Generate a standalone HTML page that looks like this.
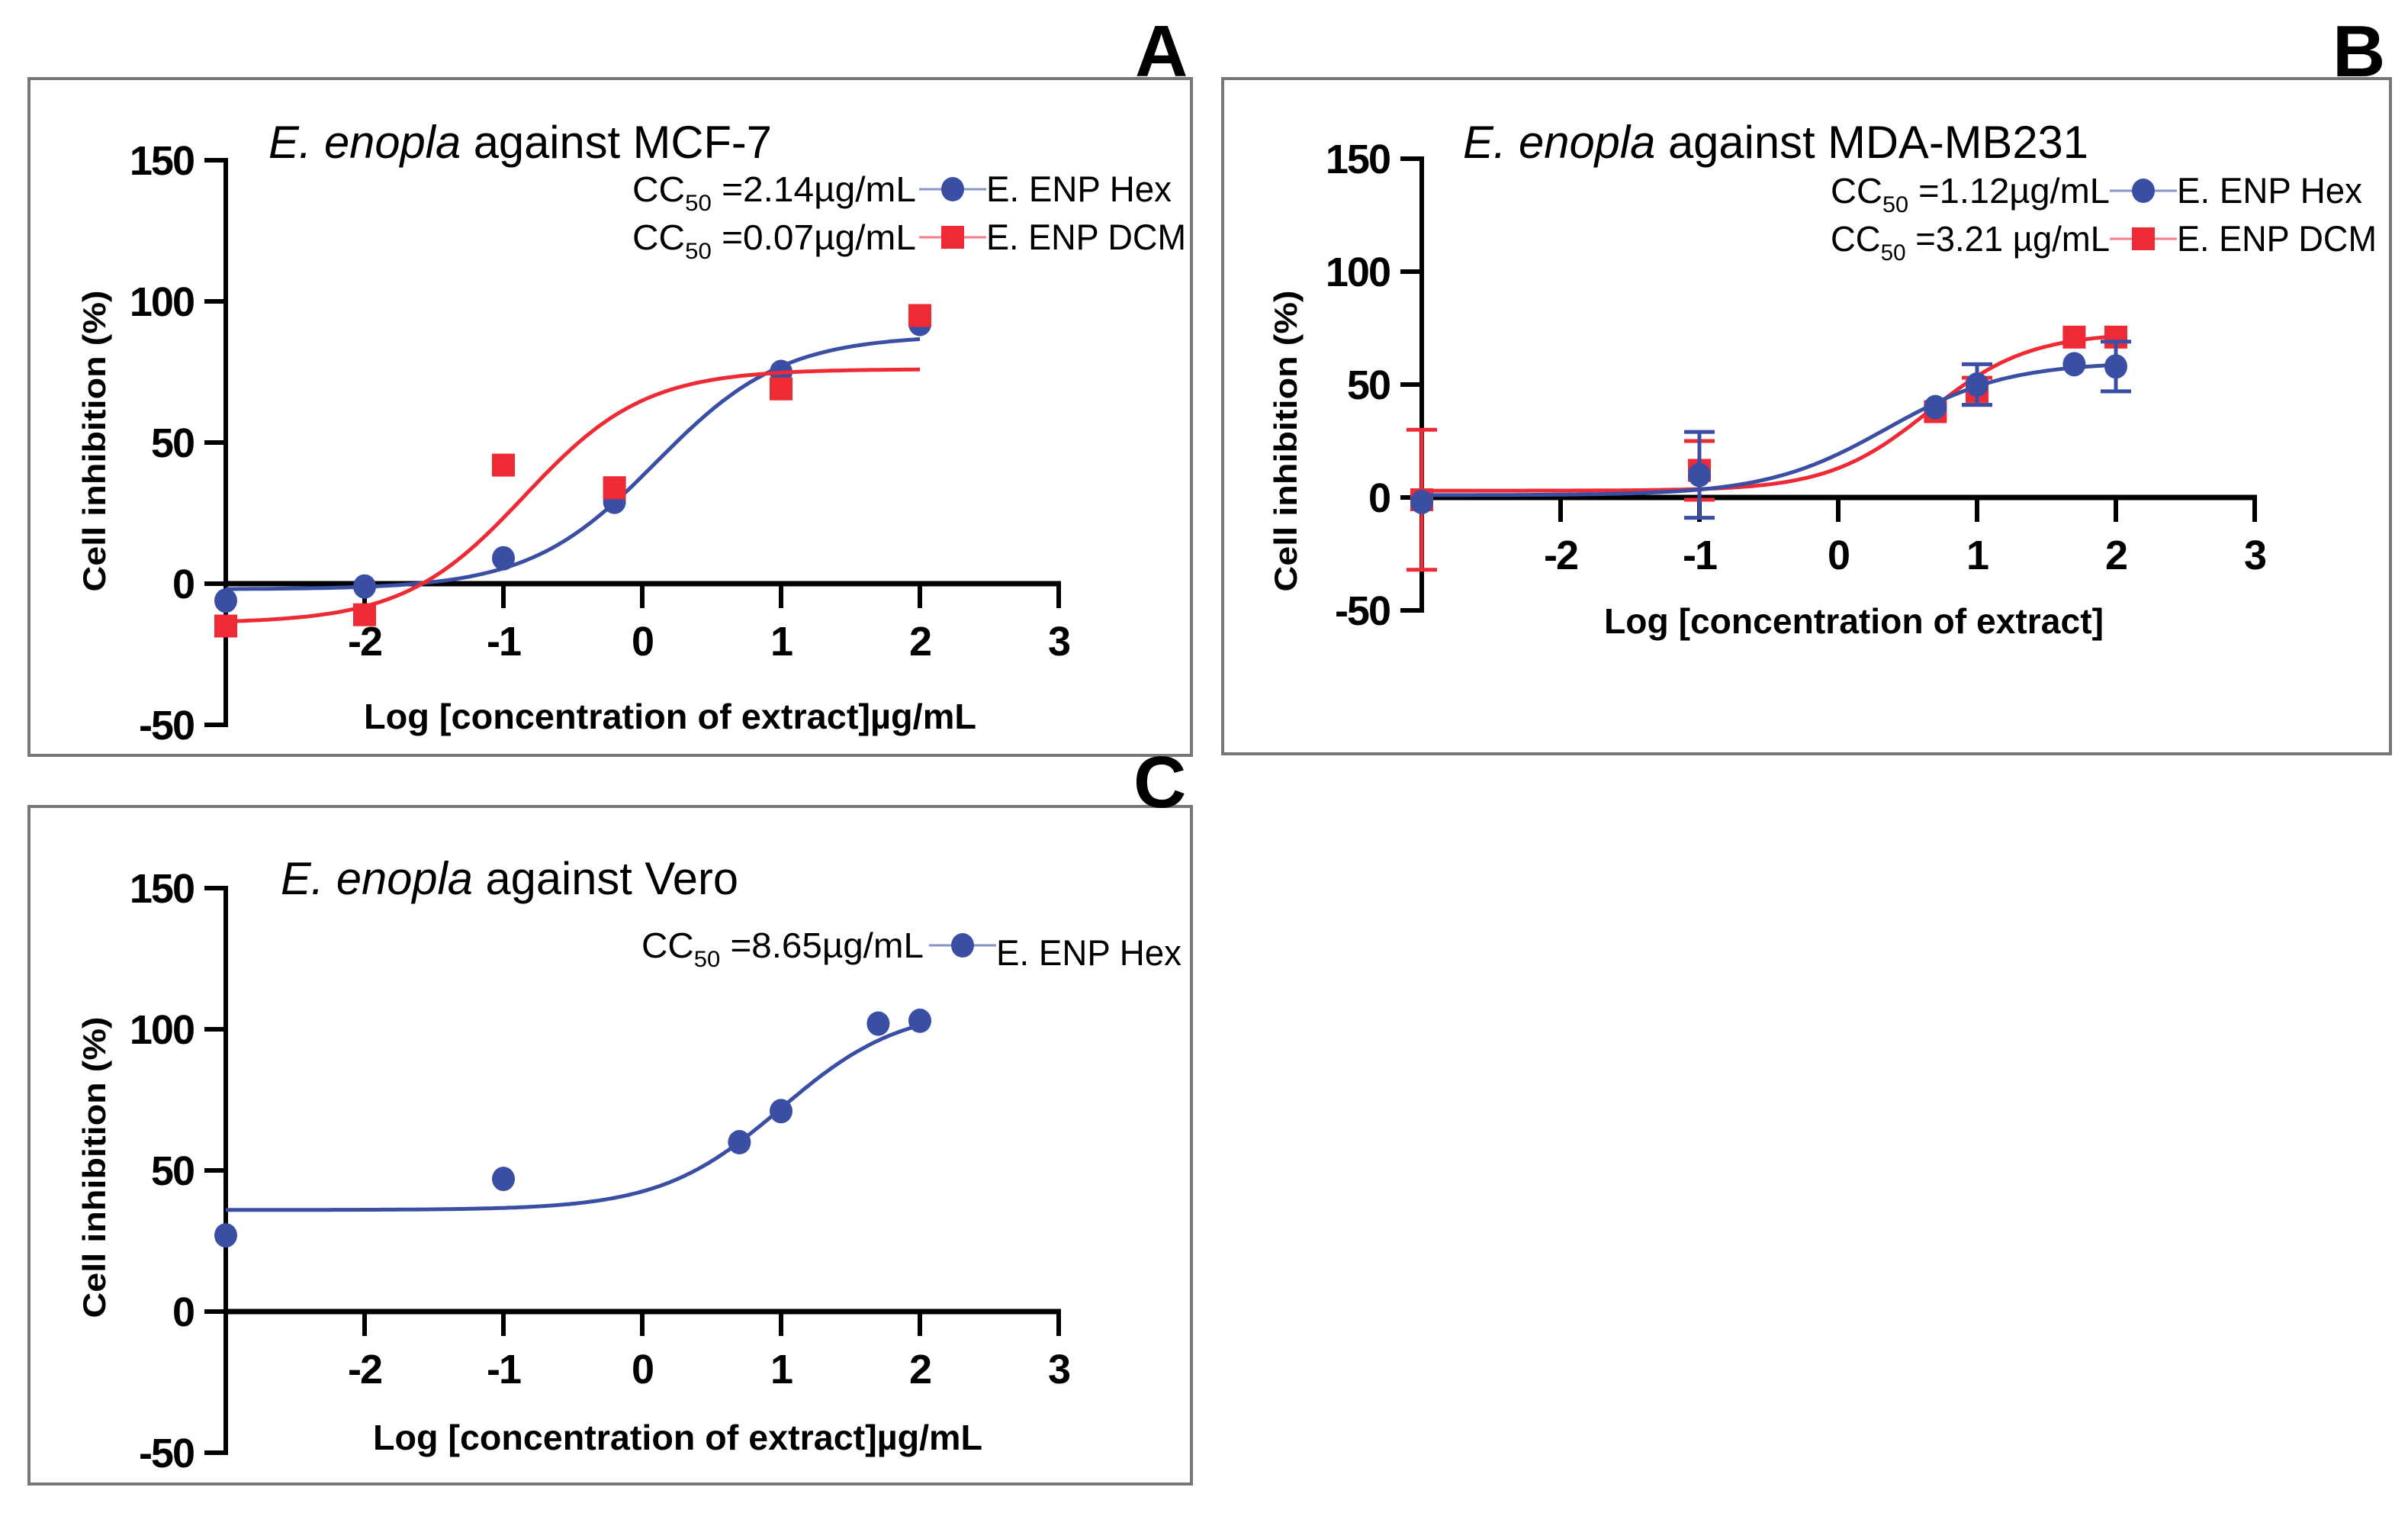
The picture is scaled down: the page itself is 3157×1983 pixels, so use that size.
<!DOCTYPE html>
<html><head><meta charset="utf-8"><style>
html,body{margin:0;padding:0;background:#fff;}
svg{display:block;}
text{font-family:"Liberation Sans",Arial,sans-serif;}
</style></head><body>
<svg id="fig" width="3157" height="1983" viewBox="0 0 3157 1983" xmlns="http://www.w3.org/2000/svg"></svg>
<script>
// ---- data ----
const xTicks = [-2,-1,0,1,2,3];
const yTicks = [-50,0,50,100,150];
const aHexX = [-3,-2,-1,-0.2,1,2];
const aHexY = [-6,-1,9,29,75,92];
const aDcmX = [-3,-2,-1,-0.2,1,2];
const aDcmY = [-15,-11,42,34,69,95];
const aHexFit = [-2,88,0.1,0.95];   // bottom, top, logEC50, hill
const aDcmFit = [-14,76,-0.85,1.0];
const bHexX = [-3,-1,0.7,1,1.7,2];
const bHexY = [-2,10,40,50,59,58];
const bHexErr = [0,19,0,9,0,11];
const bDcmX = [-3,-1,0.7,1,1.7,2];
const bDcmY = [-1,12,38,47,71,71];
const bDcmErr = [31,13,0,6,0,0];
const bHexFit = [1,60,0.35,1.0];
const bDcmFit = [3,73,0.65,1.2];
const cHexX = [-3,-1,0.7,1,1.7,2];
const cHexY = [27,47,60,71,102,103];
const cHexFit = [36,108,1.0,1.0];

const BLUE = '#3a4fa3', RED = '#ee2a35';
const svg = document.getElementById('fig');
const NS = 'http://www.w3.org/2000/svg';
function mk(tag, attrs, parent){
  const e = document.createElementNS(NS, tag);
  for (const k in attrs) e.setAttribute(k, attrs[k]);
  (parent||svg).appendChild(e); return e;
}
function logistic(p, x){ return p[0] + (p[1]-p[0])/(1+Math.pow(10,(p[2]-x)*p[3])); }

function panel(cfg){
  const g = mk('g', {});
  
  
  const fr = mk('rect', {x:cfg.box[0], y:cfg.box[1], width:cfg.box[2]-cfg.box[0], height:cfg.box[3]-cfg.box[1], fill:'none', stroke:'#777', 'stroke-width':4}, g);
  
  
  const X = v => cfg.ax + (v+3)*182;
  const Y = v => cfg.y0 - v*cfg.yu;
  const ya = mk('line', {x1:X(-3), y1:Y(150)-3, x2:X(-3), y2:Y(-50)+3, stroke:'#000', 'stroke-width':6}, g);
  
  
  const xa = mk('line', {x1:X(-3), y1:Y(0), x2:X(3)+3, y2:Y(0), stroke:'#000', 'stroke-width':7}, g);
  
  
  yTicks.forEach(t=>{
    const l = mk('line', {x1:X(-3)-28, y1:Y(t), x2:X(-3), y2:Y(t), stroke:'#000', 'stroke-width':6}, g);
    
    
    const tx = mk('text', {x:X(-3)-42, y:Y(t)+19, 'text-anchor':'end', 'font-size':54, 'font-weight':'bold', 'letter-spacing':'-2'}, g);
    tx.textContent = t;
    
    
  });
  xTicks.forEach(t=>{
    const l = mk('line', {x1:X(t), y1:Y(0), x2:X(t), y2:Y(0)+32, stroke:'#000', 'stroke-width':6}, g);
    
    
    const tx = mk('text', {x:X(t), y:Y(0)+94, 'text-anchor':'middle', 'font-size':54, 'font-weight':'bold', 'letter-spacing':'-2'}, g);
    tx.textContent = t;
    
    
  });
  const tt = mk('text', {x:cfg.title[0], y:cfg.title[1], 'font-size':60, textLength:cfg.title[2], lengthAdjust:'spacingAndGlyphs'}, g);
  tt.innerHTML = '<tspan font-style="italic">E. enopla</tspan> against ' + cfg.title[3];
  
  
  const xt = mk('text', {x:cfg.xt[0], y:cfg.xt[1], 'font-size':46, 'font-weight':'bold', textLength:cfg.xt[2], lengthAdjust:'spacingAndGlyphs'}, g);
  xt.textContent = cfg.xt[3];
  
  
  const yt = mk('text', {x:0, y:0, 'font-size':42, 'font-weight':'bold', 'text-anchor':'middle', textLength:395, lengthAdjust:'spacingAndGlyphs', transform:`translate(${cfg.yt[0]},${cfg.yt[1]}) rotate(-90)`}, g);
  yt.textContent = 'Cell inhibition (%)';
  
  
  const lt = mk('text', {x:cfg.letter[0], y:cfg.letter[1], 'font-size':96, 'font-weight':'bold'}, g);
  lt.textContent = cfg.letter[2];
  
  
  cfg.series.forEach(s=>{
    let d = '';
    for (let i=0;i<=200;i++){
      const xv = -3 + 5*i/200;
      d += (i?'L':'M') + X(xv).toFixed(1) + ',' + Y(logistic(s.fit, xv)).toFixed(1);
    }
    const c = mk('path', {d:d, fill:'none', stroke:s.color, 'stroke-width':5}, g);
    
    
    s.x.forEach((xv,i)=>{
      const e = s.err ? s.err[i] : 0;
      if (e>0){
        const eb = mk('path', {d:`M${X(xv)},${Y(s.y[i]+e)}V${Y(s.y[i]-e)}M${X(xv)-20},${Y(s.y[i]+e)}h40M${X(xv)-20},${Y(s.y[i]-e)}h40`, stroke:s.color, 'stroke-width':5, fill:'none'}, g);
        
        
      }
      let m;
      if (s.shape==='circle') m = mk('ellipse', {cx:X(xv), cy:Y(s.y[i]), rx:15, ry:16, fill:s.color}, g);
      else m = mk('rect', {x:X(xv)-15, y:Y(s.y[i])-15, width:30, height:30, fill:s.color}, g);
      
      
    });
  });
  cfg.legend.forEach(L=>{
    const lg = mk('g', {}, g);
    
    
    const t1 = mk('text', {x:L.x, y:L.y, 'font-size':46, textLength:L.w, lengthAdjust:'spacingAndGlyphs'}, lg);
    t1.innerHTML = 'CC<tspan font-size="30" dy="12">50</tspan><tspan dy="-12"> =' + L.cc + '</tspan>';
    mk('line', {x1:L.mx-44, y1:L.y-16, x2:L.mx+44, y2:L.y-16, stroke:L.color, 'stroke-width':3, opacity:0.6}, lg);
    if (L.shape==='circle') mk('ellipse', {cx:L.mx, cy:L.y-16, rx:15, ry:16, fill:L.color}, lg);
    else mk('rect', {x:L.mx-15, y:L.y-31, width:30, height:30, fill:L.color}, lg);
    const t2 = mk('text', {x:L.mx+44, y:L.y+(L.dy||0), 'font-size':47, textLength:L.lw, lengthAdjust:'spacingAndGlyphs'}, lg);
    t2.textContent = L.label;
  });
}

panel({name:'panel-a', box:[38,103,1562,990], ax:296, y0:765, yu:3.7,
  title:[352,207,660,'MCF-7'], xt:[477,955,803,'Log [concentration of extract]µg/mL'], yt:[138,578], letter:[1488,100,'A'],
  series:[
    {key:'a-hex', x:aHexX, y:aHexY, fit:aHexFit, color:BLUE, shape:'circle'},
    {key:'a-dcm', x:aDcmX, y:aDcmY, fit:aDcmFit, color:RED, shape:'square'}],
  legend:[
    {x:829, y:264, w:372, cc:'2.14µg/mL', mx:1249, color:BLUE, shape:'circle', label:'E. ENP Hex', lw:243},
    {x:829, y:327, w:372, cc:'0.07µg/mL', mx:1249, color:RED, shape:'square', label:'E. ENP DCM', lw:262}]
});
panel({name:'panel-b', box:[1603,103,3134,988], ax:1864, y0:652, yu:2.96,
  title:[1918,207,820,'MDA-MB231'], xt:[2103,830,655,'Log [concentration of extract]'], yt:[1700,578], letter:[3058,100,'B'],
  series:[
    {key:'b-dcm', x:bDcmX, y:bDcmY, err:bDcmErr, fit:bDcmFit, color:RED, shape:'square'},
    {key:'b-hex', x:bHexX, y:bHexY, err:bHexErr, fit:bHexFit, color:BLUE, shape:'circle'}],
  legend:[
    {x:2400, y:266, w:366, cc:'1.12µg/mL', mx:2810, color:BLUE, shape:'circle', label:'E. ENP Hex', lw:243},
    {x:2400, y:329, w:366, cc:'3.21 µg/mL', mx:2810, color:RED, shape:'square', label:'E. ENP DCM', lw:262}]
});
panel({name:'panel-c', box:[38,1057,1562,1945], ax:296, y0:1719, yu:3.7,
  title:[368,1172,600,'Vero'], xt:[489,1900,799,'Log [concentration of extract]µg/mL'], yt:[138,1530], letter:[1486,1058,'C'],
  series:[
    {key:'c-hex', x:cHexX, y:cHexY, fit:cHexFit, color:BLUE, shape:'circle'}],
  legend:[
    {x:841, y:1255, w:370, cc:'8.65µg/mL', mx:1262, color:BLUE, shape:'circle', label:'E. ENP Hex', dy:10, lw:243}]
});
</script>
</body></html>
